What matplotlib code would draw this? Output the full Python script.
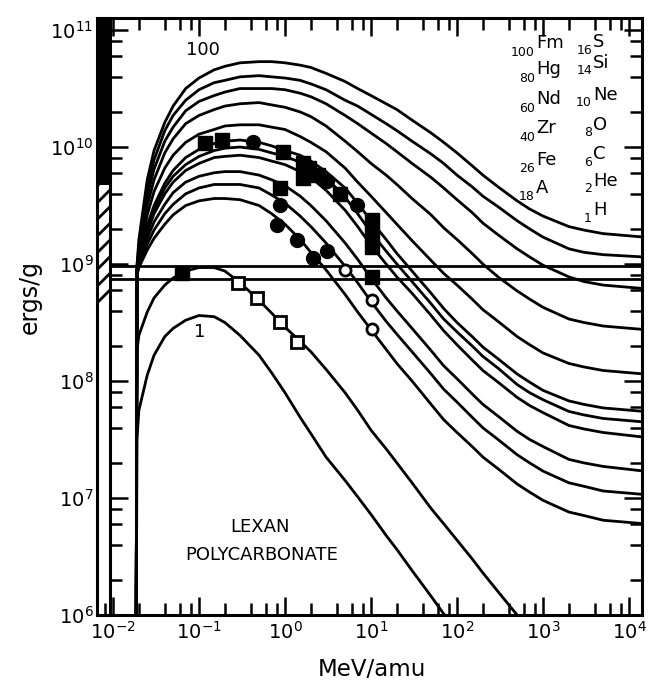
import numpy as np
import matplotlib
matplotlib.use("Agg")
import matplotlib.pyplot as plt
from matplotlib.patches import Rectangle
from matplotlib.ticker import LogLocator, FixedLocator, NullFormatter, FuncFormatter

plt.rcParams['font.family'] = ['DejaVu Sans']
plt.rcParams['mathtext.fontset'] = 'dejavusans'
plt.rcParams['hatch.linewidth'] = 2.0

# energy grid the curves were read on (MeV/amu)
energy = [0.0185, 0.019, 0.02, 0.025, 0.03, 0.04, 0.05, 0.07, 0.1, 0.15, 0.2, 0.3,
          0.5, 0.7, 1, 1.5, 2, 3, 5, 7, 10, 15, 20, 30, 50, 70, 100, 150, 200, 300,
          500, 700, 1000, 2000, 3000, 5000, 15000]

# log10(ergs/g), top (Fm) to bottom (H)
fm_log = [5.0, 8.99, 9.21, 9.72, 9.97, 10.21, 10.35, 10.50, 10.59, 10.66, 10.69, 10.72,
          10.73, 10.73, 10.72, 10.70, 10.68, 10.63, 10.56, 10.50, 10.44, 10.37, 10.32, 10.23, 10.12, 10.04, 9.95, 9.84, 9.76, 9.66,
          9.54, 9.47, 9.41, 9.32, 9.29, 9.26, 9.23]
hg_log = [5.0, 8.97, 9.15, 9.65, 9.89, 10.14, 10.27, 10.40, 10.49, 10.55, 10.57, 10.60,
          10.61, 10.60, 10.59, 10.57, 10.54, 10.49, 10.40, 10.35, 10.28, 10.20, 10.14, 10.05, 9.94, 9.86, 9.76, 9.66, 9.58, 9.49,
          9.37, 9.30, 9.23, 9.13, 9.10, 9.08, 9.06]
nd_log = [5.0, 8.97, 9.12, 9.58, 9.81, 10.05, 10.17, 10.31, 10.39, 10.44, 10.47, 10.50,
          10.50, 10.50, 10.49, 10.46, 10.43, 10.37, 10.27, 10.20, 10.12, 10.03, 9.96, 9.86, 9.74, 9.65, 9.55, 9.44, 9.35, 9.25,
          9.13, 9.06, 8.99, 8.89, 8.85, 8.82, 8.79]
zr_log = [5.0, 8.95, 9.09, 9.50, 9.72, 9.95, 10.07, 10.20, 10.27, 10.32, 10.35, 10.37,
          10.38, 10.36, 10.34, 10.30, 10.26, 10.18, 10.05, 9.96, 9.86, 9.76, 9.68, 9.56, 9.42, 9.31, 9.21, 9.09, 9.00, 8.89,
          8.77, 8.70, 8.63, 8.53, 8.50, 8.47, 8.44]
fe_log = [5.0, 8.94, 9.06, 9.42, 9.62, 9.82, 9.93, 10.04, 10.11, 10.15, 10.18, 10.19,
          10.19, 10.17, 10.15, 10.09, 10.04, 9.96, 9.82, 9.70, 9.58, 9.44, 9.34, 9.20, 9.03, 8.92, 8.82, 8.70, 8.61, 8.51,
          8.38, 8.31, 8.24, 8.15, 8.12, 8.09, 8.06]
a_log = [5.0, 8.93, 9.03, 9.33, 9.50, 9.69, 9.80, 9.91, 9.98, 10.03, 10.05, 10.06,
         10.04, 10.01, 9.97, 9.93, 9.88, 9.79, 9.65, 9.52, 9.37, 9.21, 9.09, 8.94, 8.75, 8.62, 8.50, 8.38, 8.29, 8.19,
         8.06, 7.99, 7.92, 7.83, 7.80, 7.77, 7.74]
s_log = [5.0, 8.93, 9.03, 9.31, 9.47, 9.65, 9.75, 9.85, 9.92, 9.97, 9.99, 10.00,
         9.98, 9.95, 9.92, 9.87, 9.83, 9.74, 9.57, 9.43, 9.27, 9.11, 9.00, 8.85, 8.66, 8.53, 8.42, 8.30, 8.21, 8.11,
         7.97, 7.90, 7.84, 7.74, 7.71, 7.68, 7.65]
si_log = [5.0, 8.92, 9.02, 9.27, 9.43, 9.60, 9.70, 9.80, 9.86, 9.91, 9.92, 9.93,
          9.91, 9.88, 9.85, 9.79, 9.74, 9.63, 9.46, 9.32, 9.16, 9.00, 8.89, 8.75, 8.56, 8.43, 8.31, 8.18, 8.09, 7.99,
          7.86, 7.79, 7.73, 7.62, 7.59, 7.56, 7.52]
ne_log = [5.0, 8.92, 9.00, 9.22, 9.36, 9.51, 9.61, 9.70, 9.75, 9.78, 9.79, 9.79,
          9.76, 9.72, 9.67, 9.58, 9.50, 9.37, 9.18, 9.04, 8.88, 8.71, 8.60, 8.45, 8.26, 8.13, 8.02, 7.89, 7.80, 7.70,
          7.57, 7.50, 7.44, 7.33, 7.30, 7.27, 7.23]
o_log = [5.0, 8.91, 8.98, 9.17, 9.29, 9.43, 9.51, 9.60, 9.65, 9.68, 9.68, 9.68,
         9.65, 9.59, 9.52, 9.41, 9.32, 9.18, 8.98, 8.84, 8.68, 8.51, 8.40, 8.25, 8.06, 7.93, 7.82, 7.69, 7.60, 7.50,
         7.37, 7.30, 7.23, 7.13, 7.10, 7.06, 7.03]
c_log = [5.0, 8.91, 8.97, 9.12, 9.22, 9.34, 9.42, 9.50, 9.54, 9.56, 9.56, 9.55,
         9.50, 9.43, 9.34, 9.21, 9.10, 8.95, 8.74, 8.59, 8.44, 8.27, 8.15, 8.00, 7.80, 7.67, 7.56, 7.44, 7.35, 7.25,
         7.12, 7.05, 6.98, 6.88, 6.85, 6.81, 6.78]
he_log = [5.0, 8.26, 8.39, 8.59, 8.71, 8.82, 8.88, 8.94, 8.97, 8.97, 8.94, 8.84,
          8.69, 8.58, 8.46, 8.34, 8.25, 8.10, 7.90, 7.75, 7.58, 7.42, 7.30, 7.13, 6.91, 6.78, 6.64, 6.48, 6.36, 6.20,
          6.00, 5.87, None, None, None, None, None]
h_log = [5.0, 7.50, 7.75, 8.05, 8.22, 8.38, 8.45, 8.52, 8.56, 8.55, 8.50, 8.39,
         8.22, 8.07, 7.90, 7.69, 7.55, 7.35, 7.15, 7.01, 6.86, 6.68, 6.56, 6.38, 6.16, 6.01, 5.86, None, None, None,
         None, None, None, None, None, None, None]

curves = [fm_log, hg_log, nd_log, zr_log, fe_log, a_log, s_log, si_log, ne_log, o_log, c_log, he_log, h_log]

# measured points
sq_fill_x = [0.063, 0.117, 0.185, 0.95, 0.875, 1.62, 1.62, 1.9, 2.42, 4.36, 10.3, 10.3, 10.3, 10.3]
sq_fill_y = [8.4e8, 1.08e10, 1.14e10, 9.1e9, 4.5e9, 7.3e9, 5.4e9, 6.6e9, 5.8e9, 4.0e9, 2.4e9, 1.8e9, 1.4e9, 7.7e8]
ci_fill_x = [0.42, 3.08, 6.9, 0.875, 0.81, 1.38, 2.12, 3.08]
ci_fill_y = [1.1e10, 5.1e9, 3.2e9, 3.2e9, 2.15e9, 1.6e9, 1.12e9, 1.3e9]
ci_open_x = [5.0, 10.3, 10.3]
ci_open_y = [8.9e8, 4.9e8, 2.8e8]
sq_open_x = [0.284, 0.47, 0.875, 1.38]
sq_open_y = [6.9e8, 5.1e8, 3.2e8, 2.15e8]

# threshold lines and the detector band on the left
thresholds = [9.7e8, 7.4e8]
band_black = (4.7e9, 10 ** 11.103)
band_hatch = (4.6e8, 4.7e9)

left_labels = [("100", "Fm"), ("80", "Hg"), ("60", "Nd"), ("40", "Zr"), ("26", "Fe"), ("18", "A")]
right_labels = [("16", "S"), ("14", "Si"), ("10", "Ne"), ("8", "O"), ("6", "C"), ("2", "He"), ("1", "H")]

W, H = 649, 688
L, R, B, T = 97, 642, 615, 18
fig = plt.figure(figsize=(W / 100, H / 100), dpi=100)
ax = fig.add_axes([L / W, 1 - B / H, (R - L) / W, (B - T) / H])


def apx(x, y):
    # pixel position in the picture -> axes fraction
    return ((x - L) / (R - L), (B - y) / (B - T))


e = np.array(energy)
for c in curves:
    ax.plot(e, 10 ** np.array(c, dtype=float), color='k', lw=2.0, solid_joinstyle='round')

for y in thresholds:
    ax.axhline(y, xmin=13 / (R - L), xmax=1, color='k', lw=2.0)

ax.plot(sq_fill_x, sq_fill_y, 's', color='k', ms=10)
ax.plot(ci_fill_x, ci_fill_y, 'o', color='k', ms=10)
ax.plot(ci_open_x, ci_open_y, 'o', mfc='white', mec='k', mew=2, ms=8)
ax.plot(sq_open_x, sq_open_y, 's', mfc='white', mec='k', mew=2, ms=8)

bw = 13 / (R - L)
trans = ax.get_yaxis_transform()
ax.add_patch(Rectangle((0, band_black[0]), bw, band_black[1] - band_black[0],
                       transform=trans, facecolor='k', edgecolor='k', lw=0, clip_on=False))
ax.add_patch(Rectangle((0, band_hatch[0]), bw, band_hatch[1] - band_hatch[0],
                       transform=trans, facecolor='white', edgecolor='k', lw=0, hatch='//', clip_on=False))

ax.set_xscale('log')
ax.set_yscale('log')
ax.set_xlim(10 ** -2.186, 10 ** 4.151)
ax.set_ylim(1e6, 10 ** 11.103)

ax.xaxis.set_major_locator(FixedLocator([10.0 ** k for k in range(-2, 5)]))
ax.yaxis.set_major_locator(FixedLocator([10.0 ** k for k in range(6, 12)]))
for axis in (ax.xaxis, ax.yaxis):
    axis.set_minor_locator(LogLocator(base=10, subs=[2, 4, 6, 8], numticks=20))
    axis.set_minor_formatter(NullFormatter())
    axis.set_major_formatter(FuncFormatter(lambda v, p: r'$10^{%d}$' % round(np.log10(v))))

ax.spines['left'].set_position(('axes', bw))
for s in ax.spines.values():
    s.set_linewidth(2.2)
ax.plot([0, 0], [0, 1], transform=ax.transAxes, color='k', lw=2.2, clip_on=False)

ax.tick_params(which='both', direction='in', top=True, right=True, width=1.8, labelsize=14)
ax.tick_params(which='major', length=13)
ax.tick_params(which='minor', length=8.5)
ax.tick_params(axis='y', which='major', pad=12)
ax.tick_params(axis='x', which='major', pad=4)

ax.text(*apx(203, 50), "100", transform=ax.transAxes, fontsize=13, ha='center', va='center')
ax.text(*apx(200, 332), "1", transform=ax.transAxes, fontsize=13, ha='center', va='center')
ax.text(*apx(260, 527), "LEXAN", transform=ax.transAxes, fontsize=13, ha='center', va='center')
ax.text(*apx(262, 555), "POLYCARBONATE", transform=ax.transAxes, fontsize=13, ha='center', va='center')

left_y = [43, 69, 99, 128, 160, 188]
right_y = [42, 63, 95, 125, 154, 181, 210]
for (num, sym), y in zip(left_labels, left_y):
    ax.text(*apx(536, y), sym, transform=ax.transAxes, fontsize=13, ha='left', va='center')
    ax.text(*apx(535, y + 9), num, transform=ax.transAxes, fontsize=9, ha='right', va='center')
for (num, sym), y in zip(right_labels, right_y):
    ax.text(*apx(593, y), sym, transform=ax.transAxes, fontsize=13, ha='left', va='center')
    ax.text(*apx(592, y + 8), num, transform=ax.transAxes, fontsize=9, ha='right', va='center')

fig.text(372 / W, 1 - 670 / H, "MeV/amu", fontsize=16.5, ha='center', va='center')
fig.text(30 / W, 1 - 297 / H, "ergs/g", fontsize=17, ha='center', va='center', rotation=90)

fig.savefig('out.png', dpi=100)
